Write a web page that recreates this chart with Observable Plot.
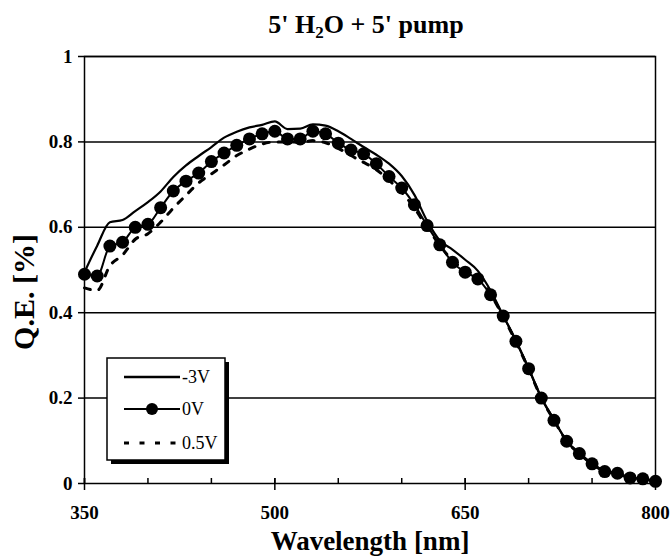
<!DOCTYPE html>
<html>
<head>
<meta charset="utf-8">
<script src="https://cdn.jsdelivr.net/npm/d3@7"></script>
<script src="https://cdn.jsdelivr.net/npm/@observablehq/plot@0.6"></script>
<style>
  html, body { margin: 0; padding: 0; background: #fff; }
  #chart svg { display: block; }
</style>
</head>
<body>
<div id="chart"></div>
<script>
const wavelength = [350,360,370,380,390,400,410,420,430,440,450,460,470,480,490,500,510,520,530,540,550,560,570,580,590,600,610,620,630,640,650,660,670,680,690,700,710,720,730,740,750,760,770,780,790,800];
const qeMinus3V = [0.495,0.557,0.612,0.617,0.638,0.659,0.684,0.718,0.745,0.767,0.788,0.810,0.824,0.834,0.840,0.848,0.830,0.831,0.841,0.838,0.825,0.807,0.788,0.770,0.749,0.720,0.676,0.615,0.569,0.548,0.524,0.498,0.452,0.393,0.335,0.270,0.202,0.149,0.100,0.070,0.046,0.030,0.023,0.014,0.011,0.006];
const qe0V = [0.490,0.486,0.556,0.565,0.600,0.607,0.646,0.685,0.708,0.727,0.754,0.774,0.792,0.807,0.819,0.825,0.807,0.807,0.825,0.819,0.797,0.781,0.772,0.749,0.719,0.692,0.653,0.604,0.559,0.518,0.495,0.479,0.442,0.392,0.333,0.269,0.200,0.148,0.099,0.070,0.046,0.028,0.024,0.013,0.011,0.005];
const qe05V = [0.458,0.452,0.510,0.535,0.572,0.585,0.612,0.645,0.675,0.704,0.725,0.746,0.768,0.783,0.795,0.800,0.800,0.799,0.803,0.798,0.785,0.768,0.752,0.735,0.710,0.682,0.645,0.600,0.558,0.522,0.500,0.482,0.444,0.390,0.332,0.268,0.200,0.148,0.099,0.070,0.046,0.029,0.023,0.013,0.011,0.005];
const seriesNames = ["-3V", "0V", "0.5V"];
const xTickLabels = [350, 500, 650, 800];
const xMinorTicks = [350,400,450,500,550,600,650,700,750,800];
const yTicks = [0, 0.2, 0.4, 0.6, 0.8, 1];
const gridY = [0.2, 0.4, 0.6, 0.8, 1];
const titleParts = ["5' H", "2", "O + 5' pump"];
const xLabel = "Wavelength [nm]";
const yLabel = "Q.E. [%]";

const rows = (vals) => wavelength.map((w, i) => ({w, v: vals[i]}));
const dMinus3 = rows(qeMinus3V);
const d0 = rows(qe0V);
const d05 = rows(qe05V);

const FONT = "'Liberation Serif', 'Times New Roman', serif";

const plot = Plot.plot({
  width: 671,
  height: 558,
  marginLeft: 84,
  marginRight: 16,
  marginTop: 56,
  marginBottom: 75,
  style: {fontFamily: FONT, color: "#000", background: "#fff"},
  x: {domain: [350, 800]},
  y: {domain: [0, 1]},
  marks: [
    Plot.ruleY(gridY, {stroke: "#000", strokeWidth: 1.5}),
    Plot.frame({stroke: "#000", strokeWidth: 1.5}),
    Plot.axisY({ticks: yTicks, tickSize: 6, tickPadding: 6, fontSize: 19, fontWeight: "bold", label: null, stroke: "#000", strokeWidth: 1.5, tickFormat: d => String(d)}),
    Plot.axisX({ticks: xMinorTicks, tickSize: 5, dy: -5, tickFormat: () => "", label: null, strokeWidth: 1.5}),
    Plot.axisX({ticks: xTickLabels, tickSize: 12, dy: -5, tickPadding: 15, fontSize: 19, fontWeight: "bold", label: null, strokeWidth: 1.5, tickFormat: d => String(d)}),
    Plot.text([xLabel], {frameAnchor: "bottom", textAnchor: "middle", dy: 58, lineAnchor: "middle", fontSize: 27, fontWeight: "bold", fill: "#000"}),
    Plot.text([yLabel], {frameAnchor: "left", textAnchor: "middle", rotate: -90, dx: -60, dy: 22, lineAnchor: "middle", fontSize: 30, fontWeight: "bold", fill: "#000"}),
    Plot.line(d05, {x: "w", y: "v", stroke: "#000", strokeWidth: 3, strokeDasharray: "6,9", curve: "monotone-x"}),
    Plot.line(d0, {x: "w", y: "v", stroke: "#000", strokeWidth: 2, curve: "monotone-x"}),
    Plot.dot(d0, {x: "w", y: "v", r: 6.5, fill: "#000", stroke: "none"}),
    Plot.line(dMinus3, {x: "w", y: "v", stroke: "#000", strokeWidth: 2.2, curve: "monotone-x"})
  ]
});

const svg = d3.select(plot);

// Title
const t = svg.append("text")
  .attr("x", 366).attr("y", 33)
  .attr("text-anchor", "middle")
  .attr("font-family", FONT)
  .attr("font-weight", "bold")
  .attr("font-size", 26)
  .attr("fill", "#000");
t.append("tspan").text(titleParts[0]);
t.append("tspan").attr("font-size", 17).attr("dy", 5).text(titleParts[1]);
t.append("tspan").attr("dy", -5).text(titleParts[2]);

// Legend
const lg = svg.append("g").attr("text-anchor", "start");
lg.append("rect").attr("x", 111).attr("y", 362).attr("width", 118).attr("height", 102).attr("fill", "#000");
lg.append("rect").attr("x", 107).attr("y", 358).attr("width", 118).attr("height", 102).attr("fill", "#fff").attr("stroke", "#000").attr("stroke-width", 1.5);
const ly = [377, 409, 443];
const styles = [
  {w: 2.5, dash: null, dot: false},
  {w: 2, dash: null, dot: true},
  {w: 3, dash: "5,10.5", dot: false}
];
seriesNames.forEach((name, i) => {
  const s = styles[i];
  const ln = lg.append("line").attr("x1", 124).attr("x2", 180).attr("y1", ly[i]).attr("y2", ly[i])
    .attr("stroke", "#000").attr("stroke-width", s.w);
  if (s.dash) ln.attr("stroke-dasharray", s.dash);
  if (s.dot) lg.append("circle").attr("cx", 152).attr("cy", ly[i]).attr("r", 6).attr("fill", "#000");
  lg.append("text").attr("x", 182).attr("y", ly[i]).attr("dy", "0.35em")
    .attr("text-anchor", "start")
    .attr("font-family", FONT).attr("font-size", 18).attr("fill", "#000").text(name);
});

document.getElementById("chart").appendChild(plot);
</script>
</body>
</html>
